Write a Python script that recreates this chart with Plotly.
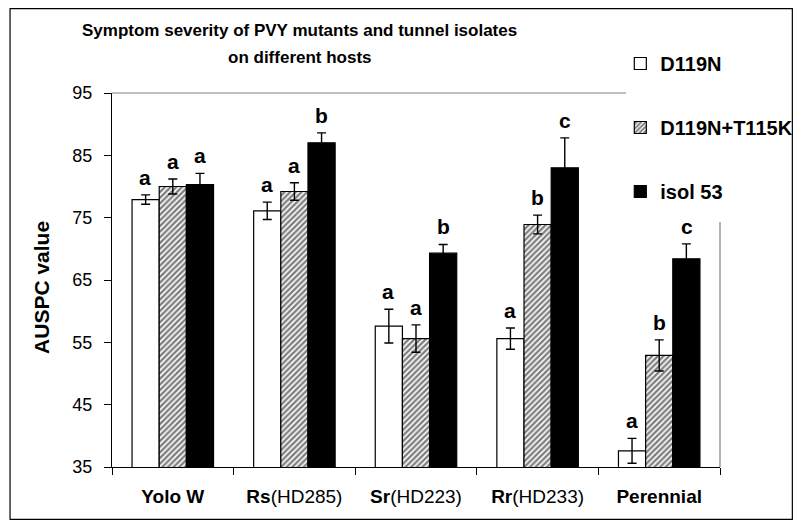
import plotly.graph_objects as go

categories = ["Yolo W", "Rs(HD285)", "Sr(HD223)", "Rr(HD233)", "Perennial"]
tick_text = ["<b>Yolo W</b>", "<b>Rs</b>(HD285)", "<b>Sr</b>(HD223)", "<b>Rr</b>(HD233)", "<b>Perennial</b>"]

series_names = ["D119N", "D119N+T115K", "isol 53"]
d119n = [77.9, 76.1, 57.6, 55.6, 37.6]
d119n_err = [0.75, 1.4, 2.7, 1.7, 2.0]
d119n_t115k = [80.0, 79.2, 55.6, 73.9, 52.9]
d119n_t115k_err = [1.2, 1.4, 2.2, 1.5, 2.5]
isol53 = [80.3, 87.0, 69.3, 83.0, 68.4]
isol53_err = [1.8, 1.6, 1.4, 4.8, 2.4]

d119n_letters = ["a", "a", "a", "a", "a"]
d119n_t115k_letters = ["a", "a", "a", "b", "b"]
isol53_letters = ["a", "b", "b", "c", "c"]

y_ticks = [35, 45, 55, 65, 75, 85, 95]

FONT = "Liberation Sans, Arial, sans-serif"
# page body margin offsets the figure by 8 px in the screenshot
OFF = 8
W, H = 802, 520
L, T = 104, 85
PW, PH = 616, 374
R, B = W - L - PW, H - T - PH

def sx(x):  # screen x -> paper
    return (x - OFF - L) / PW

def sy(y):  # screen y -> paper
    return 1 - (y - OFF - T) / PH

fig = go.Figure()

styles = [
    dict(color="white", pattern=None),
    dict(color="white", pattern=dict(shape="/", fgcolor="black", bgcolor="white", size=4, solidity=0.6)),
    dict(color="black", pattern=None),
]
values = [d119n, d119n_t115k, isol53]
errors = [d119n_err, d119n_t115k_err, isol53_err]
letters = [d119n_letters, d119n_t115k_letters, isol53_letters]

for i, (name, vals, errs, st) in enumerate(zip(series_names, values, errors, styles)):
    marker = dict(color=st["color"], line=dict(color="black", width=1.2))
    if st["pattern"] is not None:
        marker["pattern"] = st["pattern"]
    fig.add_trace(go.Bar(
        x=categories, y=vals, name=name, legendgroup=name,
        marker=marker,
        error_y=dict(type="data", array=errs, visible=True, color="black", thickness=1.4, width=4.5),
    ))

bar_px = PW / len(categories) * (1 - 0.33) / 3
for i in range(3):
    for c, v, e, lt in zip(categories, values[i], errors[i], letters[i]):
        fig.add_annotation(
            x=c, y=v + e, text=f"<b>{lt}</b>", showarrow=False,
            xref="x", yref="y", xanchor="center", yanchor="bottom",
            xshift=(i - 1) * bar_px, yshift=4,
            font=dict(family=FONT, size=21, color="black"),
        )

# Title (two lines)
fig.add_annotation(
    x=sx(302), y=sy(30), xref="paper", yref="paper",
    text="<b>Symptom severity of PVY mutants and tunnel isolates</b>",
    showarrow=False, xanchor="center", yanchor="middle",
    font=dict(family=FONT, size=17, color="black"),
)
fig.add_annotation(
    x=sx(302), y=sy(57), xref="paper", yref="paper",
    text="<b>on different hosts</b>",
    showarrow=False, xanchor="center", yanchor="middle",
    font=dict(family=FONT, size=17, color="black"),
)

# Y axis title
fig.add_annotation(
    x=sx(40), y=sy(287), xref="paper", yref="paper",
    text="<b>AUSPC value</b>", textangle=-90,
    showarrow=False, xanchor="center", yanchor="middle",
    font=dict(family=FONT, size=21, color="black"),
)

# outer chart border
fig.add_shape(type="rect", xref="paper", yref="paper",
              x0=sx(8.7), x1=sx(801.3), y0=sy(519.3), y1=sy(8.7),
              line=dict(color="black", width=1.2), layer="below")
# plot area frame (top and right, partly hidden by legend)
fig.add_shape(type="line", xref="paper", yref="paper",
              x0=0, x1=sx(633), y0=1, y1=1,
              line=dict(color="#808080", width=1.2))
fig.add_shape(type="line", xref="paper", yref="paper",
              x0=1, x1=1, y0=0, y1=sy(222),
              line=dict(color="#808080", width=1.2))

fig.update_layout(
    width=W, height=H,
    margin=dict(l=L, r=R, t=T, b=B),
    paper_bgcolor="white", plot_bgcolor="white",
    barmode="group", bargap=0.33, bargroupgap=0,
    font=dict(family=FONT, color="black"),
    showlegend=True,
    legend=dict(
        x=sx(627), y=sy(44), xanchor="left", yanchor="top",
        bgcolor="rgba(0,0,0,0)", traceorder="grouped", tracegroupgap=35,
        font=dict(family=FONT, size=20, color="black", weight="bold"),
        itemwidth=30,
    ),
    xaxis=dict(
        type="category", tickvals=categories, ticktext=tick_text,
        showline=True, linecolor="black", linewidth=1.2,
        ticks="outside", tickson="boundaries", ticklen=7, tickcolor="black",
        tickfont=dict(family=FONT, size=19, color="black"),
        ticklabelstandoff=12,
        showgrid=False, zeroline=False,
    ),
    yaxis=dict(
        range=[35, 95], tickvals=y_ticks, ticktext=[str(t) for t in y_ticks],
        showline=True, linecolor="black", linewidth=1.2,
        ticks="outside", ticklen=7, tickcolor="black",
        tickfont=dict(family=FONT, size=18, color="black"),
        ticklabelstandoff=8,
        showgrid=False, zeroline=False,
    ),
)

fig.write_html("out.html")
